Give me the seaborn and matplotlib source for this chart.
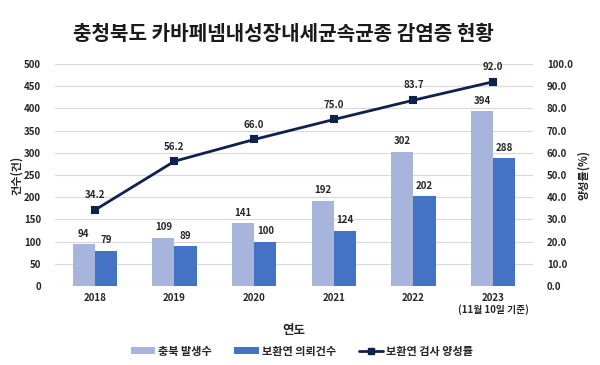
import matplotlib
matplotlib.use("Agg")
import matplotlib.pyplot as plt
import seaborn as sns
import pandas as pd
from matplotlib.patches import Patch
from matplotlib.lines import Line2D

years = ["2018", "2019", "2020", "2021", "2022", "2023"]
tick_labels = ["2018", "2019", "2020", "2021", "2022", "2023\n(11월 10일 기준)"]
occurrences = [94, 109, 141, 192, 302, 394]
requests = [79, 89, 100, 124, 202, 288]
positivity = [34.2, 56.2, 66.0, 75.0, 83.7, 92.0]
series_names = ["충북 발생수", "보환연 의뢰건수", "보환연 검사 양성률"]

sns.set_theme(style="white")
plt.rcParams["font.family"] = ["Noto Sans CJK KR", "DejaVu Sans"]

c_light = "#A7B5DC"
c_dark = "#4472C4"
c_line = "#10204F"
txt = "#262626"

df = pd.DataFrame({
    "연도": years * 2,
    "건수": occurrences + requests,
    "series": [series_names[0]] * 6 + [series_names[1]] * 6,
})

fig = plt.figure(figsize=(6, 3.65), dpi=100)
ax = fig.add_axes([55 / 600, 1 - 286 / 365, (533 - 55) / 600, (286 - 64) / 365])

sns.barplot(data=df, x="연도", y="건수", hue="series",
            palette=[c_light, c_dark], width=0.56, ax=ax, legend=False,
            saturation=1, edgecolor="none")

ax.set_ylim(0, 500)
ax.set_yticks(range(0, 501, 50))
ax.set_xlim(-0.5, 5.5)
ax.yaxis.grid(True, color="#D9D9D9", linewidth=0.8)
ax.set_axisbelow(True)
for s in ax.spines.values():
    s.set_visible(False)
ax.tick_params(axis="y", length=0, pad=10, labelsize=7, labelcolor=txt)
ax.tick_params(axis="x", length=0, pad=5, labelsize=7, labelcolor=txt)
ax.set_xticks(range(6))
ax.set_xticklabels(tick_labels, fontweight="bold")
for lab in ax.get_yticklabels():
    lab.set_fontweight("bold")
ax.set_xlabel("연도", fontsize=9, fontweight="bold", color=txt, labelpad=6)
ax.set_ylabel("건수(건)", fontsize=8, fontweight="bold", color=txt, labelpad=1)

for cont in ax.containers:
    ax.bar_label(cont, padding=4, fontsize=7, fontweight="bold", color=txt)

ax2 = ax.twinx()
sns.pointplot(x=years, y=positivity, ax=ax2, color=c_line, markers="s",
              markersize=4, linewidth=2)
ax2.set_xlim(-0.5, 5.5)
ax2.set_ylim(0, 100)
ax2.set_yticks(range(0, 101, 10))
ax2.set_yticklabels([f"{v:.1f}" for v in range(0, 101, 10)], fontweight="bold")
ax2.tick_params(axis="y", length=0, pad=10, labelsize=7, labelcolor=txt)
for s in ax2.spines.values():
    s.set_visible(False)
ax2.set_ylabel("양성률(%)", fontsize=8, fontweight="bold", color=txt, labelpad=3)
ax2.grid(False)
for i, v in enumerate(positivity):
    ax2.annotate(f"{v:.1f}", (i, v), xytext=(0, 7), textcoords="offset points",
                 ha="center", va="bottom", fontsize=7, fontweight="bold", color=txt)

fig.text(283 / 600, 1 - 33 / 365, "충청북도 카바페넴내성장내세균속균종 감염증 현황",
         ha="center", va="center", fontsize=14.5, fontweight="bold", color="#1a1a1a")

handles = [Patch(facecolor=c_light, edgecolor="none"),
           Patch(facecolor=c_dark, edgecolor="none"),
           Line2D([0], [0], color=c_line, marker="s", markersize=4, linewidth=2)]
leg = fig.legend(handles, series_names, loc="center", bbox_to_anchor=(302 / 600, 1 - 351 / 365),
                 ncol=3, frameon=False, fontsize=8, handlelength=2.2, handleheight=0.6,
                 columnspacing=2.0, handletextpad=0.3)
for t in leg.get_texts():
    t.set_fontweight("bold")
    t.set_color(txt)

fig.savefig("out.png", dpi=100, facecolor="white")
